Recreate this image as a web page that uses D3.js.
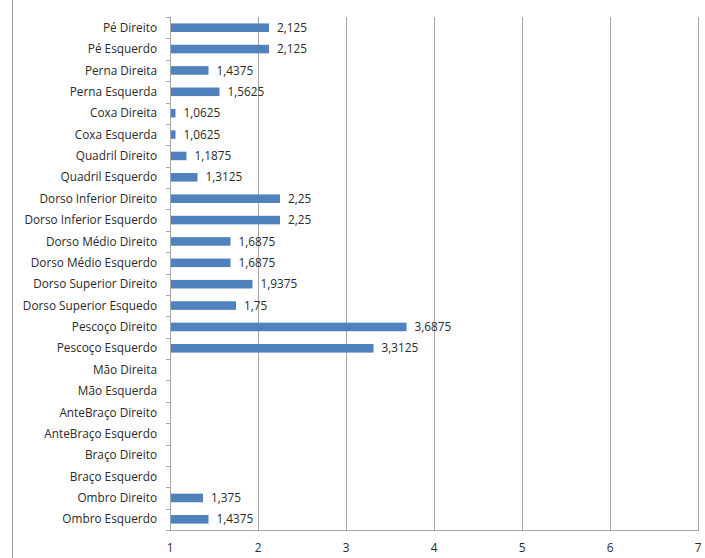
<!DOCTYPE html>
<html><head><meta charset="utf-8">
<script src="https://cdn.jsdelivr.net/npm/d3@7"></script>
<style>body{margin:0;background:#fff}svg text{font-family:"Open Sans","Liberation Sans",sans-serif}</style>
</head><body><svg id="c" width="705" height="558"></svg>
<script>
const categories = ["Pé Direito","Pé Esquerdo","Perna Direita","Perna Esquerda","Coxa Direita","Coxa Esquerda","Quadril Direito","Quadril Esquerdo","Dorso Inferior Direito","Dorso Inferior Esquerdo","Dorso Médio Direito","Dorso Médio Esquerdo","Dorso Superior Direito","Dorso Superior Esquedo","Pescoço Direito","Pescoço Esquerdo","Mão Direita","Mão Esquerda","AnteBraço Direito","AnteBraço Esquerdo","Braço Direito","Braço Esquerdo","Ombro Direito","Ombro Esquerdo"];
const values = [2.125,2.125,1.4375,1.5625,1.0625,1.0625,1.1875,1.3125,2.25,2.25,1.6875,1.6875,1.9375,1.75,3.6875,3.3125,null,null,null,null,null,null,1.375,1.4375];
const valueLabels = ["2,125","2,125","1,4375","1,5625","1,0625","1,0625","1,1875","1,3125","2,25","2,25","1,6875","1,6875","1,9375","1,75","3,6875","3,3125","","","","","","","1,375","1,4375"];
const xTicks = [1,2,3,4,5,6,7];

const svg = d3.select("#c");
const mL = 170, mR = 698, mT = 17, mB = 530;
const x = d3.scaleLinear().domain([1,7]).range([mL,mR]);
const y = d3.scaleBand().domain(categories).range([mT,mB]).paddingInner(0.6).paddingOuter(0.3);
const grid = "#a6a6a6";
const fs = 11.8, tc = "#2a2a2a";

// outer left border
svg.append("line").attr("x1",12.5).attr("x2",12.5).attr("y1",0).attr("y2",558).attr("stroke","#9a9a9a");

// gridlines
svg.append("g").selectAll("line").data(xTicks.slice(1)).join("line")
  .attr("x1",d=>Math.round(x(d))+0.5).attr("x2",d=>Math.round(x(d))+0.5)
  .attr("y1",mT).attr("y2",mB).attr("stroke",grid);

// bars
const data = categories.map((c,i)=>({c,v:values[i],l:valueLabels[i]}));
svg.append("g").selectAll("rect").data(data.filter(d=>d.v!=null)).join("rect")
  .attr("x",x(1)).attr("y",d=>y(d.c)).attr("width",d=>x(d.v)-x(1)).attr("height",y.bandwidth())
  .attr("fill","#4f81bd");

// value labels
svg.append("g").selectAll("text").data(data.filter(d=>d.v!=null)).join("text")
  .attr("x",d=>x(d.v)+8).attr("y",d=>y(d.c)+y.bandwidth()/2).attr("dy","0.35em")
  .attr("font-size",fs).attr("fill",tc).text(d=>d.l);

// y axis
const step = (mB-mT)/categories.length;
const ya = svg.append("g");
ya.append("line").attr("x1",mL+0.5).attr("x2",mL+0.5).attr("y1",mT).attr("y2",mB).attr("stroke",grid);
ya.selectAll("line.t").data(d3.range(categories.length+1)).join("line").attr("class","t")
  .attr("x1",mL-4).attr("x2",mL).attr("y1",i=>Math.round(mT+i*step)+0.5).attr("y2",i=>Math.round(mT+i*step)+0.5).attr("stroke",grid);
ya.selectAll("text").data(categories).join("text")
  .attr("x",157).attr("y",d=>y(d)+y.bandwidth()/2).attr("dy","0.35em").attr("text-anchor","end")
  .attr("font-size",fs).attr("fill",tc).text(d=>d);

// x axis
const xa = svg.append("g");
xa.append("line").attr("x1",mL).attr("x2",mR+1).attr("y1",mB+0.5).attr("y2",mB+0.5).attr("stroke",grid);
xa.selectAll("text").data(xTicks).join("text")
  .attr("x",d=>x(d)).attr("y",548).attr("dy","0.35em").attr("text-anchor","middle")
  .attr("font-size",fs).attr("fill",tc).text(d=>d);
</script></body></html>
